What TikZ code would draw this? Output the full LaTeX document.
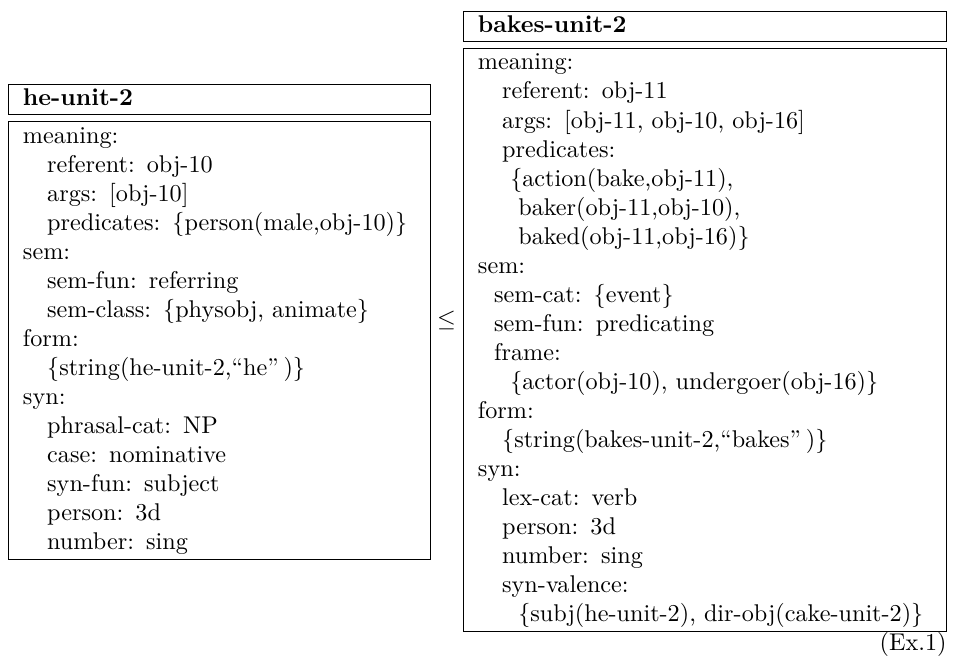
\documentclass[tikz,border=0pt]{standalone}
\usepackage{tikz}
\usetikzlibrary{positioning}
\newlength{\spw}
\setlength{\spw}{3.333pt}
% one line of a feature structure: indent (in spaces), text
\newcommand{\featln}[2]{\mbox{\strut\hspace*{#1\spw}#2}}
\newcommand{\lbr}{$\{$}
\newcommand{\rbr}{$\}$}
\tikzset{
  uhead/.style={draw, anchor=north west, align=left, inner xsep=6pt,
                inner ysep=0.2pt, font=\bfseries},
  ubody/.style={draw, anchor=north west, align=left, inner xsep=6pt,
                inner ysep=0.5pt},
}

\begin{document}
\begin{tikzpicture}
  \useasboundingbox (0,0) rectangle (394.6pt,-270.7pt);

  % left unit
  \node (hehead) [uhead, text width=162.4pt] at (3.3pt,-34.7pt) {\featln{0}{he-unit-2}};
  \node (hebody) [ubody, text width=162.4pt, below right=2.5pt and 0pt of hehead.south west] {%
    \featln{0}{meaning:}\\
    \featln{3}{referent: obj-10}\\
    \featln{3}{args: [obj-10]}\\
    \featln{3}{predicates: \lbr person(male,obj-10)\rbr}\\
    \featln{0}{sem:}\\
    \featln{3}{sem-fun: referring}\\
    \featln{3}{sem-class: \lbr physobj, animate\rbr}\\
    \featln{0}{form:}\\
    \featln{3}{\lbr string(he-unit-2,``he''\kern2pt)\rbr}\\
    \featln{0}{syn:}\\
    \featln{3}{phrasal-cat: NP}\\
    \featln{3}{case: nominative}\\
    \featln{3}{syn-fun: subject}\\
    \featln{3}{person: 3d}\\
    \featln{3}{number: sing}};

  % right unit
  \node (bkhead) [uhead, text width=187.6pt] at (191.3pt,-4.5pt) {\featln{0}{bakes-unit-2}};
  \node (bkbody) [ubody, text width=187.6pt, below right=2.5pt and 0pt of bkhead.south west] {%
    \featln{0}{meaning:}\\
    \featln{3}{referent: obj-11}\\
    \featln{3}{args: [obj-11, obj-10, obj-16]}\\
    \featln{3}{predicates:}\\
    \featln{4}{\lbr action(bake,obj-11),}\\
    \featln{5}{baker(obj-11,obj-10),}\\
    \featln{5}{baked(obj-11,obj-16)\rbr}\\
    \featln{0}{sem:}\\
    \featln{2}{sem-cat: \lbr event\rbr}\\
    \featln{2}{sem-fun: predicating}\\
    \featln{2}{frame:}\\
    \featln{4}{\lbr actor(obj-10), undergoer(obj-16)\rbr}\\
    \featln{0}{form:}\\
    \featln{3}{\lbr string(bakes-unit-2,``bakes''\kern2pt)\rbr}\\
    \featln{0}{syn:}\\
    \featln{3}{lex-cat: verb}\\
    \featln{3}{person: 3d}\\
    \featln{3}{number: sing}\\
    \featln{3}{syn-valence:}\\
    \featln{5}{\lbr subj(he-unit-2), dir-obj(cake-unit-2)\rbr}};

  \node (leq) at (184.5pt,-132.6pt) {$\leq$};
  \node (ex) [anchor=north east, inner sep=0pt] at (bkbody.south east) {(Ex.1)};
\end{tikzpicture}
\end{document}
